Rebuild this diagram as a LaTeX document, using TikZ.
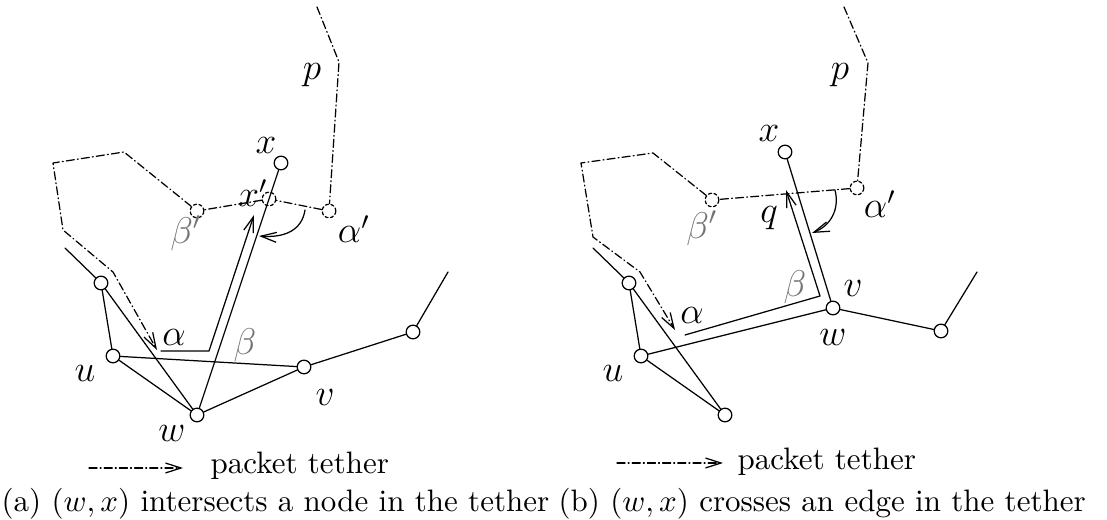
\documentclass[tikz,border=0pt]{standalone}
\usetikzlibrary{arrows.meta}

\tikzset{
	vtx/.style={circle,draw,inner sep=0pt,minimum size=4.4pt},
	tvtx/.style={circle,draw,dashed,dash pattern=on 1pt off 0.8pt,inner sep=0pt,minimum size=4.4pt},
	tether/.style={dash pattern=on 2.6pt off 1pt on 0.3pt off 1pt},
	lbl/.style={inner sep=0pt,font=\large},
	glbl/.style={inner sep=0pt,font=\large,text=black!55},
	txt/.style={inner sep=0pt},
}

\begin{document}
\begin{tikzpicture}[x=0.3225pt,y=-0.3225pt,>={Straight Barb[length=5pt,width=3.2pt]}, line join=round, line cap=round]
	\useasboundingbox (0,0) rectangle (1107,520);
	
	% (a) the edge (w,x) runs through a tether node
	\node[vtx] (a1) at (101,283) {};
	\node[vtx] (u) at (113,356) {};
	\node[vtx] (w) at (197,415) {};
	\node[vtx] (v) at (304,367) {};
	\node[vtx] (r) at (413,332) {};
	\node[vtx] (x) at (281,163) {};
	\coordinate (a0) at (65,248);
	\coordinate (r0) at (448,272);
	\draw (a0) -- (a1) -- (u) -- (v) -- (r) -- (r0);
	\draw (a1) -- (w) (u) -- (w) -- (v) (w) -- (x);
	
	\node[tvtx] (al) at (329,211) {};
	\node[tvtx] (xp) at (269,199) {};
	\node[tvtx] (bl) at (197,211) {};
	\draw[tether,->] (317,7) -- (339,62) -- (al) -- (xp) -- (bl) -- (124,152) -- (53,163) -- (63,230) -- (113,272) -- (157,350);
	
	\draw[->] (161,351) -- (209,351) -- (254,215);
	\draw[->] (305,210) .. controls (302,230) and (285,238) .. (259,236);
	
	\node[lbl] at (266,145) {$x$};
	\node[lbl] at (253,193) {$x'$};
	\node[lbl] at (312,75) {$p$};
	\node[glbl] at (186,233) {$\beta'$};
	\node[lbl] at (354,229) {$\alpha'$};
	\node[lbl] at (174,337) {$\alpha$};
	\node[glbl] at (245,345) {$\beta$};
	\node[lbl] at (85,373) {$u$};
	\node[lbl] at (325,397) {$v$};
	\node[lbl] at (172,433) {$w$};
	
	\draw[tether,->] (89,468) -- (183,468);
	\node[txt,anchor=base west] at (210,474) {packet tether};
	\node[txt,anchor=base west] at (1,512) {(a) $(w,x)$ intersects a node in the tether};
	
	% (b) the edge (w,x) crosses a tether edge
	\node[vtx] (b1) at (629,283) {};
	\node[vtx] (bu) at (641,356) {};
	\node[vtx] (bb) at (725,415) {};
	\node[vtx] (bw) at (833,308) {};
	\node[vtx] (br) at (941,331) {};
	\node[vtx] (bx) at (785,152) {};
	\coordinate (b0) at (593,248);
	\coordinate (br0) at (977,272);
	\draw (b0) -- (b1) -- (bu) -- (bw) -- (br) -- (br0);
	\draw (b1) -- (bb) (bu) -- (bb) (bw) -- (bx);
	
	\node[tvtx] (bal) at (857,188) {};
	\node[tvtx] (bbl) at (712,200) {};
	\draw[tether,->] (844,7) -- (868,63) -- (bal) -- (bbl) -- (653,153) -- (581,163) -- (593,237) -- (640,272) -- (675,330);
	
	\draw[->] (685,335) -- (820,296) -- (786,190);
	\draw[->] (835,190) .. controls (840,210) and (830,226) .. (812,233);
	
	\node[lbl] at (769,133) {$x$};
	\node[lbl] at (840,75) {$p$};
	\node[glbl] at (702,228) {$\beta'$};
	\node[lbl] at (880,204) {$\alpha'$};
	\node[lbl] at (769,218) {$q$};
	\node[lbl] at (692,315) {$\alpha$};
	\node[glbl] at (795,287) {$\beta$};
	\node[lbl] at (853,288) {$v$};
	\node[lbl] at (833,337) {$w$};
	\node[lbl] at (613,373) {$u$};
	
	\draw[tether,->] (617,463) -- (723,463);
	\node[txt,anchor=base west] at (737,469) {packet tether};
	\node[txt,anchor=base west] at (558,512) {(b) $(w,x)$ crosses an edge in the tether};
\end{tikzpicture}
\end{document}
